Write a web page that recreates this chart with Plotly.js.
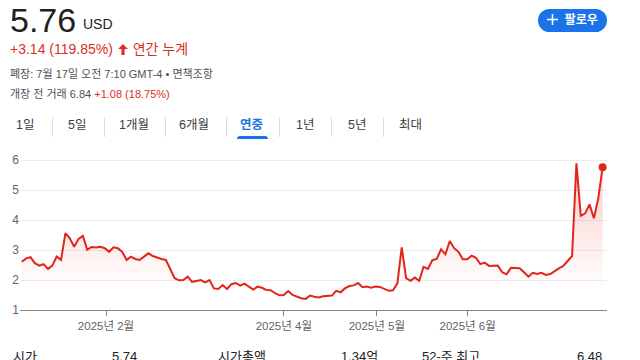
<!DOCTYPE html>
<html>
<head>
<meta charset="utf-8">
<script src="https://cdn.plot.ly/plotly-3.0.1.min.js"></script>
<style>
  html,body{margin:0;padding:0;background:#fff;width:640px;height:360px;overflow:hidden;
    font-family:"Liberation Sans",Arial,"Noto Sans CJK KR",sans-serif;}
  .abs{position:absolute;white-space:nowrap;line-height:1;z-index:5;}
  #chart{position:absolute;left:0;top:0;width:640px;height:360px;z-index:1;}
  .sep{position:absolute;width:1px;background:#dadce0;top:117px;height:20px;z-index:5;}
  .tab{position:absolute;top:119px;font-size:12.5px;color:#3c4043;line-height:1;z-index:5;}
  .red{color:#d93025;}
</style>
</head>
<body>
<div id="chart"></div>

<div class="abs" style="left:10px;top:3px;font-size:34px;color:#202124;">5.76</div>
<div class="abs" style="left:83px;top:17px;font-size:14px;color:#202124;">USD</div>

<div class="abs red" style="left:10px;top:42px;font-size:14px;">+3.14 (119.85%)
  <svg width="10" height="11" viewBox="0 0 10 11" style="vertical-align:-1px;margin:0 1px 0 1px"><path d="M5 0 L10 5 L6.6 5 L6.6 11 L3.4 11 L3.4 5 L0 5 Z" fill="#d93025"/></svg> 연간 누계</div>

<div class="abs" style="left:10px;top:69px;font-size:11px;color:#4d5156;">폐장: 7월 17일 오전 7:10 GMT-4 • 면책조항</div>
<div class="abs" style="left:10px;top:89px;font-size:11px;color:#4d5156;">개장 전 거래 6.84 <span class="red">+1.08 (18.75%)</span></div>

<div style="position:absolute;left:538px;top:9px;width:69px;height:23px;border-radius:12px;background:#1a73e8;z-index:5;"></div>
<div class="abs" style="left:547px;top:14px;font-size:12px;font-weight:bold;color:#fff;"><svg width="11" height="11" viewBox="0 0 11 11" style="vertical-align:-1px"><path d="M4.7 0 H6.3 V4.7 H11 V6.3 H6.3 V11 H4.7 V6.3 H0 V4.7 H4.7 Z" fill="#fff"/></svg>&nbsp; 팔로우</div>

<div class="tab" style="left:16px;">1일</div>
<div class="sep" style="left:52px;"></div>
<div class="tab" style="left:68px;">5일</div>
<div class="sep" style="left:104px;"></div>
<div class="tab" style="left:119px;">1개월</div>
<div class="sep" style="left:165px;"></div>
<div class="tab" style="left:179px;">6개월</div>
<div class="sep" style="left:226px;"></div>
<div class="tab" style="left:240px;color:#1a73e8;font-weight:bold;">연중</div>
<div style="position:absolute;left:237px;top:136px;width:31px;height:3px;background:#1a73e8;border-radius:3px 3px 0 0;z-index:5;"></div>
<div class="sep" style="left:279px;"></div>
<div class="tab" style="left:296px;">1년</div>
<div class="sep" style="left:331px;"></div>
<div class="tab" style="left:348px;">5년</div>
<div class="sep" style="left:383px;"></div>
<div class="tab" style="left:399px;">최대</div>

<div class="abs" style="left:13px;top:350px;font-size:13px;color:#202124;">시가</div>
<div class="abs" style="left:112px;top:350px;font-size:13px;color:#202124;">5.74</div>
<div class="abs" style="left:218px;top:350px;font-size:13px;color:#202124;">시가총액</div>
<div class="abs" style="left:341px;top:350px;font-size:13px;color:#202124;">1.34억</div>
<div class="abs" style="left:422px;top:350px;font-size:13px;color:#202124;">52-주 최고</div>
<div class="abs" style="left:577px;top:350px;font-size:13px;color:#202124;">6.48</div>

<script>
// Daily closing prices, 2025 year-to-date (USD)
const prices = [
  2.61,2.72,2.76,2.56,2.48,2.53,2.37,2.48,2.78,2.67,
  3.56,3.39,3.11,3.37,3.47,3.01,3.10,3.08,3.11,3.06,
  2.94,3.09,3.06,2.94,2.67,2.78,2.70,2.67,2.78,2.89,
  2.80,2.74,2.70,2.67,2.39,2.06,1.99,2.00,2.11,1.94,
  1.97,2.00,1.92,2.00,1.72,1.70,1.83,1.70,1.86,1.90,
  1.81,1.88,1.78,1.68,1.78,1.74,1.67,1.66,1.56,1.49,
  1.50,1.63,1.50,1.44,1.39,1.37,1.48,1.44,1.42,
  1.46,1.48,1.48,1.64,1.59,1.72,1.80,1.82,1.90,1.76,
  1.78,1.74,1.78,1.77,1.70,1.64,1.66,1.89,3.09,
  2.06,1.97,2.08,1.97,2.44,2.37,2.66,2.70,3.02,2.86,
  3.30,3.06,2.94,2.69,2.69,2.81,2.74,2.53,2.58,2.47,
  2.47,2.48,2.26,2.19,2.41,2.39,2.39,2.26,2.11,2.24,
  2.20,2.24,2.17,2.20,2.31,2.39,2.47,2.64,
  2.80,5.89,4.14,4.22,4.52,4.06,4.72,5.76
];
// Trading-day positions of month ticks
const tickPositions = [19.3, 60, 81.3, 102.1];
const tickLabels = ["2025년 2월", "2025년 4월", "2025년 5월", "2025년 6월"];
const yTicks = [1, 2, 3, 4, 5, 6];

const xs = prices.map((_, i) => i);
const lastIdx = prices.length - 1;
const font = '"Liberation Sans", Arial, "Noto Sans CJK KR", sans-serif';

const traces = [
  {
    x: xs, y: prices, type: 'scatter', mode: 'lines',
    line: {color: '#e3241b', width: 2},
    fill: 'tozeroy',
    fillgradient: {type: 'vertical', start: 1.7, stop: 6,
      colorscale: [[0, 'rgba(234,67,53,0)'], [1, 'rgba(234,67,53,0.28)']]},
    hoverinfo: 'skip'
  },
  {
    x: [xs[lastIdx]], y: [prices[lastIdx]], type: 'scatter', mode: 'markers',
    marker: {color: '#e3241b', size: 8}, cliponaxis: false, hoverinfo: 'skip'
  }
];

const layout = {
  width: 640, height: 360,
  margin: {l: 20, r: 33, t: 157, b: 50, pad: 0},
  paper_bgcolor: 'rgba(0,0,0,0)', plot_bgcolor: 'rgba(0,0,0,0)',
  showlegend: false,
  font: {family: font},
  xaxis: {
    range: [-0.4, 134], tickmode: 'array', tickvals: tickPositions, ticktext: tickLabels,
    showgrid: false, zeroline: false, showline: true, linecolor: '#80868b', linewidth: 1,
    ticks: 'outside', ticklen: 5, tickcolor: '#80868b', tickwidth: 1,
    tickfont: {size: 11.5, color: '#5f6368', family: font}, fixedrange: true
  },
  yaxis: {
    range: [1, 6.1], tickmode: 'array', tickvals: yTicks,
    showgrid: true, gridcolor: '#ececec', gridwidth: 1, zeroline: false, showline: false,
    ticks: '', tickfont: {size: 12, color: '#5f6368', family: font}, fixedrange: true
  }
};

Plotly.newPlot('chart', traces, layout, {displayModeBar: false, staticPlot: true});
</script>
</body>
</html>
